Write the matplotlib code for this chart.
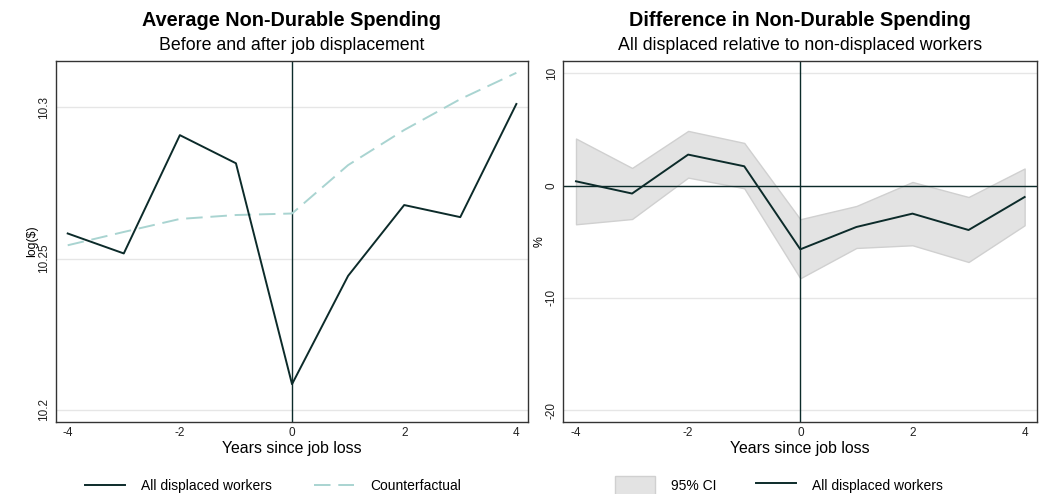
import matplotlib
matplotlib.use("Agg")
import matplotlib.pyplot as plt
from matplotlib.patches import Patch
from matplotlib.lines import Line2D

plt.rcParams['font.family'] = ['Liberation Sans', 'DejaVu Sans']
plt.rcParams['axes.unicode_minus'] = False

years = [-4, -3, -2, -1, 0, 1, 2, 3, 4]
displaced_log = [10.2583, 10.2517, 10.2908, 10.2815, 10.2085, 10.2443, 10.2677, 10.2637, 10.3011]
counterfactual_log = [10.2544, 10.2588, 10.2631, 10.2644, 10.2649, 10.2809, 10.2925, 10.3027, 10.3114]
diff_pct = [0.38, -0.71, 2.76, 1.72, -5.68, -3.69, -2.50, -3.96, -1.02]
ci_upper = [4.19, 1.57, 4.87, 3.80, -3.00, -1.82, 0.32, -1.02, 1.52]
ci_lower = [-3.45, -2.98, 0.71, -0.24, -8.26, -5.56, -5.32, -6.81, -3.54]
xticks = [-4, -2, 0, 2, 4]
left_yticks = [10.2, 10.25, 10.3]
left_yticklabels = ["10.2", "10.25", "10.3"]
right_yticks = [-20, -10, 0, 10]

DARK = '#0c2b2a'
LIGHT = '#a9d4d1'
GRID = '#e6e6e6'
FRAME = '#333333'
DASH = (8.5, 4)

fig = plt.figure(figsize=(10.43, 4.94), dpi=100)
ax1 = fig.add_axes([0.0534, 0.1464, 0.4528, 0.7301])
ax2 = fig.add_axes([0.5401, 0.1464, 0.4539, 0.7301])

def style(ax):
    for s in ax.spines.values():
        s.set_color(FRAME)
        s.set_linewidth(1.0)
    ax.tick_params(length=0, labelsize=8.5, pad=4, colors='#222222')
    ax.set_xticks(xticks)
    ax.grid(axis='y', color=GRID, linewidth=1.0)
    ax.set_axisbelow(True)
    ax.set_xlabel("Years since job loss", fontsize=11.4, labelpad=1)
    for lab in ax.get_yticklabels():
        lab.set_rotation(90)
        lab.set_va('center')

# Left panel
ax1.axvline(0, color=DARK, linewidth=1.0, zorder=1)
ax1.plot(years, counterfactual_log, color=LIGHT, linewidth=1.4, dashes=DASH, zorder=2)
ax1.plot(years, displaced_log, color=DARK, linewidth=1.4, zorder=3)
ax1.set_xlim(-4.214, 4.207)
ax1.set_ylim(10.1961, 10.3153)
ax1.set_yticks(left_yticks)
ax1.set_yticklabels(left_yticklabels)
ax1.set_ylabel("log($)", fontsize=8.8, labelpad=0)
style(ax1)
fig.text(0.2798, 1 - 20 / 494, "Average Non-Durable Spending", ha='center', va='center',
         fontsize=14.3, fontweight='bold')
fig.text(0.2798, 1 - 46 / 494, "Before and after job displacement", ha='center', va='center',
         fontsize=12.8)

# Right panel
ax2.fill_between(years, ci_lower, ci_upper, facecolor='#e3e3e3', edgecolor='#d0d0d0',
                 linewidth=1.0, zorder=1)
ax2.axhline(0, color=DARK, linewidth=1.0, zorder=2)
ax2.axvline(0, color=DARK, linewidth=1.0, zorder=2)
ax2.plot(years, diff_pct, color=DARK, linewidth=1.4, zorder=3)
ax2.set_xlim(-4.226, 4.216)
ax2.set_ylim(-21.04, 11.1)
ax2.set_yticks(right_yticks)
ax2.set_ylabel("%", fontsize=8.8, labelpad=0)
style(ax2)
fig.text(0.7671, 1 - 20 / 494, "Difference in Non-Durable Spending", ha='center', va='center',
         fontsize=14.3, fontweight='bold')
fig.text(0.7671, 1 - 46 / 494, "All displaced relative to non-displaced workers", ha='center',
         va='center', fontsize=12.8)

# Legends
h1 = [Line2D([], [], color=DARK, linewidth=1.4),
      Line2D([], [], color=LIGHT, linewidth=1.4, dashes=DASH)]
fig.legend(h1, ["All displaced workers", "Counterfactual"], loc='center',
           bbox_to_anchor=(273 / 1043, 1 - 486 / 494), ncol=2, frameon=False,
           fontsize=10, handlelength=2.88, handletextpad=1.15, columnspacing=3.0)
h2 = [Patch(facecolor='#e3e3e3', edgecolor='#d0d0d0'),
      Line2D([], [], color=DARK, linewidth=1.4)]
fig.legend(h2, ["95% CI", "All displaced workers"], loc='center',
           bbox_to_anchor=(779 / 1043, 1 - 486 / 494), ncol=2, frameon=False,
           fontsize=10, handlelength=2.88, handletextpad=1.15, columnspacing=2.9,
           handleheight=1.8)

fig.savefig("out.png", dpi=100, facecolor='white')
